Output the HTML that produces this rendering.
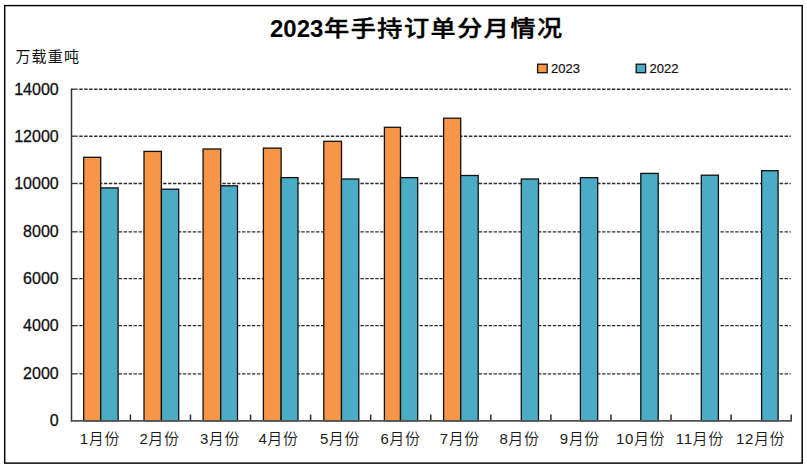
<!DOCTYPE html>
<html><head><meta charset="utf-8"><title>2023年手持订单分月情况</title>
<style>
html,body{margin:0;padding:0;background:#fff;}
svg{display:block;}
.g{stroke:#2e2e2e;stroke-width:1.35;stroke-dasharray:3.4 1.532;}
.t{stroke:#333;stroke-width:1.3;}
.ax{stroke:#333;stroke-width:1.5;}
.axh{stroke:#525252;stroke-width:1.8;}
.tx{stroke:#2a2a2a;stroke-width:1.5;}
.o{fill:#F79646;stroke:#111;stroke-width:1.3;}
.b{fill:#4BACC6;stroke:#111;stroke-width:1.3;}
.yl{font-family:"Liberation Sans",Arial,sans-serif;font-size:16px;text-anchor:end;fill:#111;stroke:#111;stroke-width:0.3px;}
.xl{font-family:"Liberation Sans","Noto Sans CJK SC",sans-serif;font-size:15px;text-anchor:middle;fill:#1a1a1a;letter-spacing:0.6px;font-weight:350;}
.ti{font-family:"Liberation Sans","Noto Sans CJK SC",sans-serif;font-size:24px;font-weight:bold;fill:#000;}
.tic{font-family:"Noto Sans CJK SC",sans-serif;font-weight:500;font-size:23.5px;letter-spacing:1.4px;stroke:#000;stroke-width:0.45px;}
.un{font-family:"Liberation Sans","Noto Sans CJK SC",sans-serif;font-size:15px;fill:#111;}
.lg{font-family:"Liberation Sans",Arial,sans-serif;font-size:13px;fill:#111;stroke:#111;stroke-width:0.2px;}
</style></head>
<body>
<svg width="807" height="468" viewBox="0 0 807 468">
<rect x="0" y="0" width="807" height="468" fill="#fff"/>
<rect x="4.7" y="5.6" width="797.5" height="457.5" fill="none" stroke="#000" stroke-width="1.45"/>
<text x="270" y="36.8" class="ti">2023</text><text transform="translate(324.0,36.1) scale(1.07,0.93)" class="ti tic">年手持订单分月情况</text>
<text x="15.4" y="62" class="un" textLength="63.5" lengthAdjust="spacing">万载重吨</text>
<rect x="537.6" y="64.2" width="9.6" height="8.5" class="o"/>
<text x="551" y="72.8" class="lg">2023</text>
<rect x="636.2" y="64.2" width="9.4" height="8.5" class="b"/>
<text x="649.6" y="72.8" class="lg">2022</text>
<line x1="79.3" y1="373.85" x2="790.8" y2="373.85" class="g"/>
<line x1="71.5" y1="373.85" x2="77.7" y2="373.85" class="t"/>
<line x1="79.3" y1="325.65" x2="790.8" y2="325.65" class="g"/>
<line x1="71.5" y1="325.65" x2="77.7" y2="325.65" class="t"/>
<line x1="79.3" y1="278.65" x2="790.8" y2="278.65" class="g"/>
<line x1="71.5" y1="278.65" x2="77.7" y2="278.65" class="t"/>
<line x1="79.3" y1="231.80" x2="790.8" y2="231.80" class="g"/>
<line x1="71.5" y1="231.80" x2="77.7" y2="231.80" class="t"/>
<line x1="79.3" y1="183.50" x2="790.8" y2="183.50" class="g"/>
<line x1="71.5" y1="183.50" x2="77.7" y2="183.50" class="t"/>
<line x1="79.3" y1="136.20" x2="790.8" y2="136.20" class="g"/>
<line x1="71.5" y1="136.20" x2="77.7" y2="136.20" class="t"/>
<line x1="79.3" y1="89.20" x2="790.8" y2="89.20" class="g"/>
<line x1="71.5" y1="89.20" x2="77.7" y2="89.20" class="t"/>
<rect x="83.7" y="157.3" width="17.00" height="263.50" class="o"/>
<rect x="144.0" y="151.4" width="17.40" height="269.40" class="o"/>
<rect x="203.1" y="149" width="17.60" height="271.80" class="o"/>
<rect x="263.4" y="148.1" width="17.70" height="272.70" class="o"/>
<rect x="323.8" y="141.3" width="17.70" height="279.50" class="o"/>
<rect x="384.4" y="127.3" width="16.10" height="293.50" class="o"/>
<rect x="443.6" y="118.2" width="17.10" height="302.60" class="o"/>
<rect x="100.7" y="187.9" width="17.40" height="232.90" class="b"/>
<rect x="161.4" y="189.2" width="17.30" height="231.60" class="b"/>
<rect x="220.7" y="185.8" width="16.80" height="235.00" class="b"/>
<rect x="281.1" y="177.6" width="16.90" height="243.20" class="b"/>
<rect x="341.5" y="179" width="17.30" height="241.80" class="b"/>
<rect x="400.5" y="177.65" width="17.20" height="243.15" class="b"/>
<rect x="460.7" y="175.5" width="17.50" height="245.30" class="b"/>
<rect x="521.3" y="179" width="17.20" height="241.80" class="b"/>
<rect x="580.4" y="177.7" width="17.30" height="243.10" class="b"/>
<rect x="640.8" y="173.4" width="17.40" height="247.40" class="b"/>
<rect x="701.3" y="175.2" width="17.10" height="245.60" class="b"/>
<rect x="761.6" y="170.7" width="16.50" height="250.10" class="b"/>
<line x1="130.40" y1="420.8" x2="130.40" y2="414.6" class="tx"/>
<line x1="190.47" y1="420.8" x2="190.47" y2="414.6" class="tx"/>
<line x1="250.54" y1="420.8" x2="250.54" y2="414.6" class="tx"/>
<line x1="310.61" y1="420.8" x2="310.61" y2="414.6" class="tx"/>
<line x1="370.68" y1="420.8" x2="370.68" y2="414.6" class="tx"/>
<line x1="430.75" y1="420.8" x2="430.75" y2="414.6" class="tx"/>
<line x1="490.82" y1="420.8" x2="490.82" y2="414.6" class="tx"/>
<line x1="550.89" y1="420.8" x2="550.89" y2="414.6" class="tx"/>
<line x1="610.96" y1="420.8" x2="610.96" y2="414.6" class="tx"/>
<line x1="671.03" y1="420.8" x2="671.03" y2="414.6" class="tx"/>
<line x1="731.10" y1="420.8" x2="731.10" y2="414.6" class="tx"/>
<line x1="791.17" y1="420.8" x2="791.17" y2="414.6" class="tx"/>
<line x1="71.5" y1="88.60" x2="71.5" y2="421.5" class="ax"/>
<line x1="70.8" y1="420.8" x2="791.9" y2="420.8" class="axh"/>
<text x="58.7" y="426.20" class="yl">0</text>
<text x="58.7" y="379.45" class="yl">2000</text>
<text x="58.7" y="331.25" class="yl">4000</text>
<text x="58.7" y="284.25" class="yl">6000</text>
<text x="58.7" y="237.40" class="yl">8000</text>
<text x="58.7" y="189.10" class="yl">10000</text>
<text x="58.7" y="141.80" class="yl">12000</text>
<text x="58.7" y="94.80" class="yl">14000</text>
<text x="99.95" y="443.5" class="xl">1月份</text>
<text x="159.50" y="443.5" class="xl">2月份</text>
<text x="220.00" y="443.5" class="xl">3月份</text>
<text x="278.50" y="443.5" class="xl">4月份</text>
<text x="340.00" y="443.5" class="xl">5月份</text>
<text x="400.50" y="443.5" class="xl">6月份</text>
<text x="459.90" y="443.5" class="xl">7月份</text>
<text x="519.50" y="443.5" class="xl">8月份</text>
<text x="579.90" y="443.5" class="xl">9月份</text>
<text x="640.60" y="443.5" class="xl">10月份</text>
<text x="699.80" y="443.5" class="xl">11月份</text>
<text x="760.60" y="443.5" class="xl">12月份</text>
</svg>
</body></html>
